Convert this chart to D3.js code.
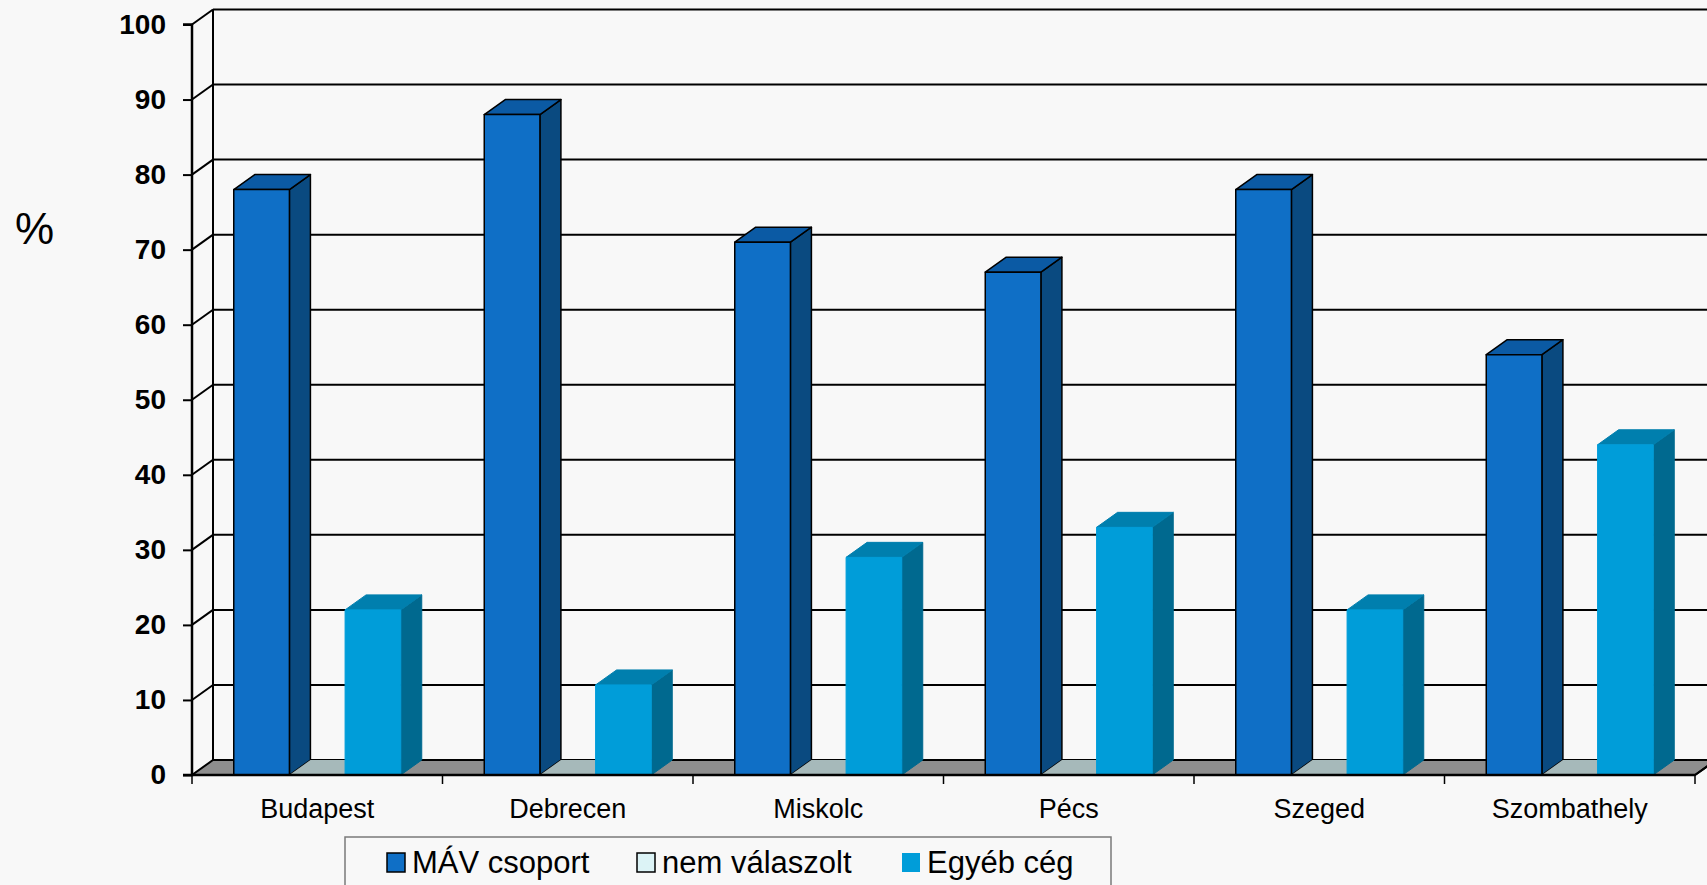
<!DOCTYPE html>
<html><head><meta charset="utf-8">
<script src="https://cdn.jsdelivr.net/npm/d3@7"></script>
<style>html,body{margin:0;padding:0;background:#f8f8f8;overflow:hidden}</style>
</head><body>
<svg id="c" width="1707" height="885"></svg>
<script>
const categories = ["Budapest","Debrecen","Miskolc","Pécs","Szeged","Szombathely"];
const seriesNames = ["MÁV csoport","nem válaszolt","Egyéb cég"];
const mav = [78,88,71,67,78,56];
const nemValaszolt = [0,0,0,0,0,0];
const egyeb = [22,12,29,33,22,44];
const yTicks = [0,10,20,30,40,50,60,70,80,90,100];

const svg = d3.select("#c");
const FONT = "'Liberation Sans', Arial, sans-serif";
const DX = 21, DY = -15;
const x0 = d3.scaleBand().domain(categories).range([192, 1695]).padding(0);
const x1 = d3.scaleBand().domain(seriesNames).range([0, x0.bandwidth()]).paddingInner(0).paddingOuter(0.75);
const y = d3.scaleLinear().domain([0,100]).range([775, 24.5]);
const xLeft = x0.range()[0], xRight = x0.range()[1];

const colors = {
  "MÁV csoport": {front:"#0f6fc6", side:"#0a4a80", top:"#0b5aa4", stroke:"#000", legend:"#0f6fc6"},
  "nem válaszolt": {front:"#dcf3f6", side:"#a6b9ba", top:"#a6b9ba", stroke:null, legend:"#dcf3f6"},
  "Egyéb cég": {front:"#009dd9", side:"#00698f", top:"#007fae", stroke:null, legend:"#009dd9"}
};

svg.append("rect").attr("width",1707).attr("height",885).attr("fill","#f8f8f8");

// back wall & side wall gridlines
const grid = svg.append("g").attr("stroke","#000").attr("stroke-width",2).attr("fill","none");
yTicks.filter(v=>v>0).forEach(v=>{
  grid.append("line").attr("x1",xLeft+DX).attr("x2",xRight+DX).attr("y1",y(v)+DY).attr("y2",y(v)+DY);
  grid.append("line").attr("x1",xLeft).attr("x2",xLeft+DX).attr("y1",y(v)).attr("y2",y(v)+DY);
});
grid.append("line").attr("x1",xLeft+DX).attr("x2",xLeft+DX).attr("y1",y(0)+DY).attr("y2",y(100)+DY);

// floor
svg.append("path")
  .attr("d",`M${xLeft},${y(0)}L${xRight},${y(0)}L${xRight+DX},${y(0)+DY}L${xLeft+DX},${y(0)+DY}Z`)
  .attr("fill","#8e8e8e").attr("stroke","#000").attr("stroke-width",2);

// bars
const dataBySeries = {"MÁV csoport":mav,"nem válaszolt":nemValaszolt,"Egyéb cég":egyeb};
const bars = svg.append("g");
categories.forEach((c,i)=>{
  seriesNames.forEach(s=>{
    const v = dataBySeries[s][i];
    const col = colors[s];
    const xa = x0(c)+x1(s), xb = xa + x1.bandwidth();
    const yb = y(0), yt = y(v);
    const g = bars.append("g").attr("stroke-width",col.stroke ? 1.5 : 1).attr("stroke-linejoin","round");
    const st = f => col.stroke || f;
    if (v > 0) {
      g.append("path").attr("d",`M${xb},${yb}L${xb+DX},${yb+DY}L${xb+DX},${yt+DY}L${xb},${yt}Z`).attr("fill",col.side).attr("stroke",st(col.side));
      g.append("path").attr("d",`M${xa},${yt}L${xb},${yt}L${xb+DX},${yt+DY}L${xa+DX},${yt+DY}Z`).attr("fill",col.top).attr("stroke",st(col.top));
      g.append("rect").attr("x",xa).attr("y",yt).attr("width",xb-xa).attr("height",yb-yt).attr("fill",col.front).attr("stroke",st(col.front));
    } else {
      g.append("path").attr("d",`M${xa},${yt}L${xb},${yt}L${xb+DX},${yt+DY}L${xa+DX},${yt+DY}Z`).attr("fill",col.top).attr("stroke","none");
    }
  });
});

// y axis
const yAxis = d3.axisLeft(y).tickValues(yTicks).tickSize(9).tickPadding(17);
const ya = svg.append("g").attr("transform",`translate(${xLeft},0)`).call(yAxis);
ya.select(".domain").attr("stroke","#000").attr("stroke-width",2.5).attr("d",`M-9,${y(0)}H0V${y(100)}H-9`);
ya.selectAll(".tick line").attr("stroke","#000").attr("stroke-width",2);
ya.selectAll(".tick text").attr("font-family",FONT).attr("font-size",28).attr("font-weight","bold").attr("fill","#000");

// x axis
svg.append("line").attr("x1",xLeft).attr("x2",xRight).attr("y1",y(0)).attr("y2",y(0)).attr("stroke","#000").attr("stroke-width",2.5);
svg.append("line").attr("x1",xRight).attr("x2",xRight+DX).attr("y1",y(0)).attr("y2",y(0)+DY).attr("stroke","#000").attr("stroke-width",2);
const xa = d3.axisBottom(x0).tickSize(0).tickPadding(0);
const xg = svg.append("g").attr("transform",`translate(0,${y(0)})`).call(xa);
xg.select(".domain").remove();
xg.selectAll(".tick text").attr("font-family",FONT).attr("font-size",27).attr("fill","#000").attr("dy",null).attr("y",43);
const bounds = categories.map(c=>x0(c)).concat([xRight]);
svg.append("g").selectAll("line").data(bounds).join("line")
  .attr("x1",d=>d).attr("x2",d=>d).attr("y1",y(0)).attr("y2",y(0)+9)
  .attr("stroke","#000").attr("stroke-width",1.5);

// % label
svg.append("text").attr("x",15).attr("y",244).attr("font-family",FONT).attr("font-size",44).attr("fill","#000").text("%");

// legend
svg.append("rect").attr("x",345).attr("y",837).attr("width",766).attr("height",60)
  .attr("fill","none").attr("stroke","#7a7a7a").attr("stroke-width",1.5);
const legX = [387, 637, 902];
seriesNames.forEach((s,i)=>{
  const col = colors[s];
  svg.append("rect").attr("x",legX[i]).attr("y",853).attr("width",18).attr("height",19)
    .attr("fill",col.legend).attr("stroke", i<2 ? "#000" : "none").attr("stroke-width",1.5);
  svg.append("text").attr("x",legX[i]+25).attr("y",873).attr("font-family",FONT).attr("font-size",31).attr("fill","#000").text(s);
});
</script>
</body></html>
